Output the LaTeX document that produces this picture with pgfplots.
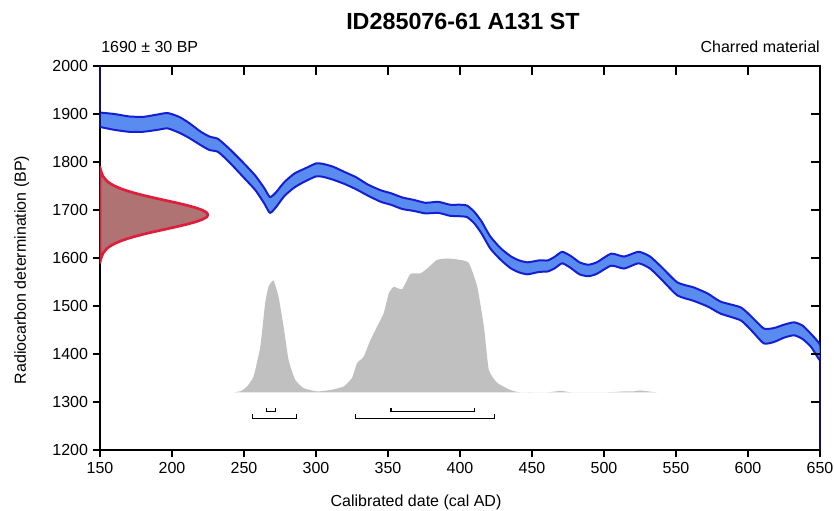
\documentclass[border=0pt]{standalone}
\usepackage{fontspec}
\setmainfont{Liberation Sans}
\usepackage{pgfplots}
\pgfplotsset{compat=1.18}
\definecolor{bandfill}{RGB}{90,140,240}
\definecolor{bandedge}{RGB}{20,30,210}
\definecolor{navyline}{RGB}{15,15,110}
\definecolor{redge}{RGB}{222,30,60}
\definecolor{rfill}{RGB}{175,115,115}
\definecolor{grayfill}{RGB}{192,192,192}
\begin{document}
\begin{tikzpicture}[font=\fontsize{12}{14}\selectfont]
\begin{axis}[name=ax, scale only axis, width=540pt, height=288pt,
  xmin=150, xmax=650, ymin=1200, ymax=2000,
  xtick={150,200,...,650}, ytick={1200,1300,...,2000},
  tick align=outside, xtick pos=left, ytick pos=left,
  major tick length=5.5pt,
  axis line style={line width=0.9pt},
  tick style={black, line width=0.9pt},
  /pgf/number format/assume math mode=true,
  /pgf/number format/set thousands separator={},
  scaled ticks=false,
  tick label style={font=\fontsize{12}{14}\selectfont},
  clip=true]
% gray calibrated distribution
\addplot[fill=grayfill, draw=none, smooth, tension=0.3] coordinates {
(243,1320)(248,1323)(252,1332)(256.6,1353)(261.3,1415)(264.7,1506)(267,1540)(270.5,1553)(274,1519)(277.5,1457)(281,1387)(285.6,1346)(291.4,1329)(300.7,1322)(310,1325)(319,1332)(325,1350)(328.5,1381)(333,1394)(337.8,1429)(342.4,1457)(347,1485)(350.5,1526)(354,1540)(359.8,1535)(365.6,1567)(372.5,1568)(377.2,1578)(384,1596)(391,1599)(398,1597)(406,1590)(412,1540)(416.6,1457)(420,1367)(425.8,1340)(435,1325)(442,1320)(460,1320)(466,1322)(471,1323)(478,1320)(500,1320)(508,1321)(514,1322)(520,1322)(525,1324)(531,1322)(537,1320)
} -- cycle;
% calibration curve band
\addplot[fill=bandfill, draw=bandedge, line width=1.5pt, line join=round, smooth, tension=0.35] coordinates {
(150,1903)(160,1900)(170,1895)(180,1894)(190,1899)(197,1902)(205,1894)(212,1881)(220,1863)(226,1853)(232,1848)(240,1827)(250,1797)(258,1771)(264,1746)(268,1727)(272,1736)(278,1758)(285,1776)(292,1786)(300,1797)(305,1796)(312,1790)(320,1779)(328,1768)(336,1753)(345,1741)(352,1735)(360,1726)(368,1721)(376,1715)(385,1717)(393,1711)(400,1711)(405,1709)(410,1696)(415,1676)(421,1645)(428,1621)(435,1604)(441,1595)(447,1591)(455,1595)(461,1595)(466,1603)(471,1613)(477,1604)(483,1591)(489,1586)(495,1591)(505,1609)(514,1603)(524,1613)(532,1603)(540,1581)(551,1549)(562,1539)(572,1526)(581,1509)(595,1497)(603,1476)(611,1453)(618,1454)(625,1461)(632,1466)(638,1459)(644,1441)(650,1419)
(650,1387)(644,1414)(638,1431)(632,1439)(625,1434)(618,1425)(611,1422)(603,1447)(595,1470)(581,1484)(572,1499)(562,1511)(551,1522)(540,1555)(532,1578)(524,1589)(514,1578)(505,1584)(495,1567)(489,1562)(483,1566)(477,1579)(471,1589)(466,1579)(461,1572)(455,1571)(447,1566)(441,1570)(435,1579)(428,1597)(421,1620)(415,1651)(410,1672)(405,1685)(400,1687)(393,1688)(385,1694)(376,1693)(368,1698)(360,1702)(352,1711)(345,1717)(336,1730)(328,1743)(320,1754)(312,1763)(305,1769)(300,1770)(292,1759)(285,1747)(278,1729)(272,1705)(268,1694)(264,1714)(258,1741)(250,1767)(240,1799)(232,1821)(226,1825)(220,1835)(212,1850)(205,1861)(197,1870)(190,1867)(180,1863)(170,1863)(160,1867)(150,1873)
} -- cycle;
% radiocarbon determination
\addplot[fill=rfill, draw=redge, line width=2pt, line join=round] coordinates {
(150,1590)(150.3,1595)(150.8,1600)(152.1,1610)(154.9,1620)(157.2,1625)(160.2,1630)(164.0,1635)(168.7,1640)(174.4,1645)(180.8,1650)(188.0,1655)(195.5,1660)(203.0,1665)(210.1,1670)(216.2,1675)(220.9,1680)(224.0,1685)(225,1690)(224.0,1695)(220.9,1700)(216.2,1705)(210.1,1710)(203.0,1715)(195.5,1720)(188.0,1725)(180.8,1730)(174.4,1735)(168.7,1740)(164.0,1745)(160.2,1750)(157.2,1755)(154.9,1760)(152.1,1770)(150.8,1780)(150.3,1785)(150,1790)
} -- cycle;
% ranges
\addplot[black, line width=0.9pt] coordinates {(265.9,1288)(265.9,1280)(272.1,1280)(272.1,1288)};
\addplot[black, line width=0.9pt] coordinates {(352.1,1288)(352.1,1280)(410.3,1280)(410.3,1288)};
\addplot[black, line width=0.9pt] coordinates {(255.9,1274)(255.9,1266)(286.3,1266)(286.3,1274)};
\addplot[black, line width=0.9pt] coordinates {(327.3,1274)(327.3,1266)(424.2,1266)(424.2,1274)};
\end{axis}
\begin{axis}[at={(ax.south west)}, anchor=south west, scale only axis, width=540pt, height=288pt,
  xmin=150, xmax=650, ymin=1200, ymax=2000, hide axis, clip=false]
\addplot[navyline, line width=1.3pt] coordinates {(150,2000)(150,1872)};
\addplot[navyline, line width=1.3pt] coordinates {(650,1390)(650,1200)};
% inward ticks on the top and right sides
\addplot[black, line width=1pt] coordinates {(200,2000)(200,1982)};
\addplot[black, line width=1pt] coordinates {(250,2000)(250,1982)};
\addplot[black, line width=1pt] coordinates {(300,2000)(300,1982)};
\addplot[black, line width=1pt] coordinates {(350,2000)(350,1982)};
\addplot[black, line width=1pt] coordinates {(400,2000)(400,1982)};
\addplot[black, line width=1pt] coordinates {(450,2000)(450,1982)};
\addplot[black, line width=1pt] coordinates {(500,2000)(500,1982)};
\addplot[black, line width=1pt] coordinates {(550,2000)(550,1982)};
\addplot[black, line width=1pt] coordinates {(600,2000)(600,1982)};
\addplot[black, line width=1pt] coordinates {(650,1300)(644,1300)};
\addplot[black, line width=1pt] coordinates {(650,1400)(644,1400)};
\addplot[black, line width=1pt] coordinates {(650,1500)(644,1500)};
\addplot[black, line width=1pt] coordinates {(650,1600)(644,1600)};
\addplot[black, line width=1pt] coordinates {(650,1700)(644,1700)};
\addplot[black, line width=1pt] coordinates {(650,1800)(644,1800)};
\addplot[black, line width=1pt] coordinates {(650,1900)(644,1900)};
\end{axis}
\node[anchor=base, font=\fontsize{17.5}{20}\selectfont\bfseries] at ([yshift=27pt, xshift=2.25pt]ax.north) {ID285076-61 A131 ST};
\node[anchor=base west, inner sep=0pt] at ([yshift=9.75pt, xshift=0.75pt]ax.north west) {1690 ± 30 BP};
\node[anchor=base east, inner sep=0pt] at ([yshift=9.75pt]ax.north east) {Charred material};
\node[anchor=base, inner sep=0pt] at ([xshift=-33pt, yshift=-42.4pt]ax.south) {Calibrated date (cal AD)};
\node[rotate=90, anchor=center] at ([xshift=-58.7pt, yshift=-9pt]ax.west) {Radiocarbon determination (BP)};
\pgfresetboundingbox
\path[use as bounding box] ([shift={(-75pt,-45.75pt)}]ax.south west) rectangle ([shift={(10.5pt,49.5pt)}]ax.north east);
\end{tikzpicture}
\end{document}
